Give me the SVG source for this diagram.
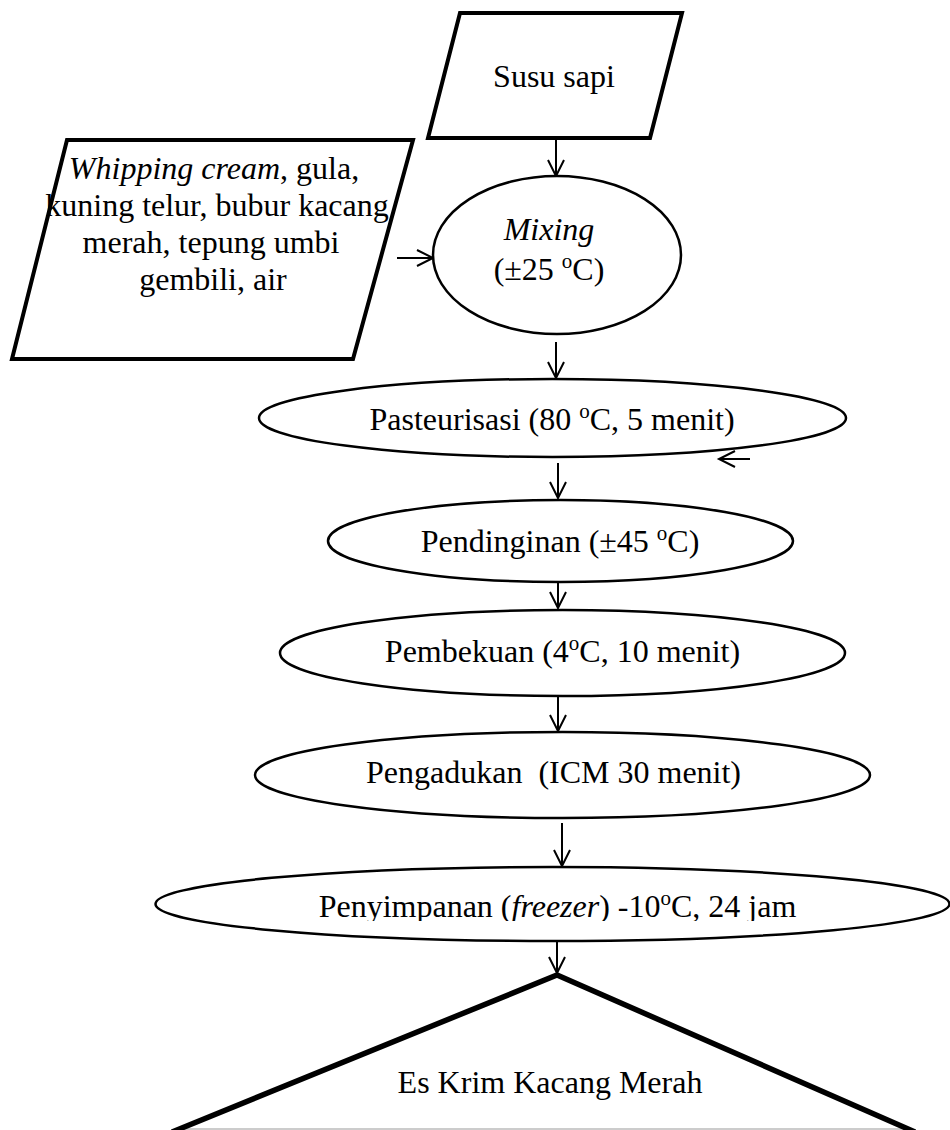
<svg xmlns="http://www.w3.org/2000/svg" width="950" height="1130" viewBox="0 0 950 1130">
<style>
.t{font-family:"Liberation Serif","Times New Roman",serif;font-size:32px;fill:#000;text-anchor:middle}
.sup{font-size:21px}
.io{stroke:#000;stroke-width:4;fill:#fff;stroke-linejoin:miter}
.pr{stroke:#000;stroke-width:2.5;fill:#fff}
.cn{stroke:#000;stroke-width:2;fill:none}
</style>
<defs>
<marker id="arr" markerUnits="userSpaceOnUse" markerWidth="22" markerHeight="22" refX="17" refY="9" orient="auto" viewBox="0 0 22 22">
<path d="M1,1 L17,9 L1,17" fill="none" stroke="#000" stroke-width="2"/>
</marker>
<clipPath id="clipP"><rect x="0" y="870" width="950" height="51"/></clipPath>
</defs>
<rect width="950" height="1130" fill="#fff"/>

<g id="connectors">
<line class="cn" x1="556" y1="138" x2="556" y2="176" marker-end="url(#arr)"/>
<line class="cn" x1="397" y1="258" x2="433" y2="258" marker-end="url(#arr)"/>
<line class="cn" x1="556" y1="342" x2="556" y2="378" marker-end="url(#arr)"/>
<line class="cn" x1="750" y1="459" x2="719" y2="459" marker-end="url(#arr)"/>
<line class="cn" x1="558" y1="463" x2="558" y2="498" marker-end="url(#arr)"/>
<line class="cn" x1="558" y1="583" x2="558" y2="608" marker-end="url(#arr)"/>
<line class="cn" x1="558" y1="697" x2="558" y2="731" marker-end="url(#arr)"/>
<line class="cn" x1="562" y1="823" x2="562" y2="866" marker-end="url(#arr)"/>
<line class="cn" x1="557" y1="942" x2="557" y2="973" marker-end="url(#arr)"/>
</g>

<g id="susu">
<polygon class="io" points="460,13 682,13 650,138 428,138"/>
<text class="t" x="554" y="87">Susu sapi</text>
</g>

<g id="bahan">
<polygon class="io" points="67,140 413,140 353,359 12,359"/>
<text class="t" x="214" y="179"><tspan font-style="italic">Whipping cream</tspan>, gula,</text>
<text class="t" x="217" y="216">kuning telur, bubur kacang</text>
<text class="t" x="211" y="253">merah, tepung umbi</text>
<text class="t" x="213" y="290">gembili, air</text>
</g>

<g id="mixing">
<ellipse class="pr" cx="557" cy="255" rx="124" ry="79"/>
<text class="t" x="549" y="240" font-style="italic">Mixing</text>
<text class="t" x="549" y="280">(±25 <tspan class="sup" dy="-12">o</tspan><tspan dy="12">C)</tspan></text>
</g>

<g id="pasteurisasi">
<ellipse class="pr" cx="552.5" cy="418" rx="293.5" ry="39"/>
<text class="t" x="552" y="430">Pasteurisasi (80 <tspan class="sup" dy="-12">o</tspan><tspan dy="12">C, 5 menit)</tspan></text>
</g>

<g id="pendinginan">
<ellipse class="pr" cx="560.5" cy="541" rx="232.5" ry="41"/>
<text class="t" x="560" y="552">Pendinginan (±45 <tspan class="sup" dy="-12">o</tspan><tspan dy="12">C)</tspan></text>
</g>

<g id="pembekuan">
<ellipse class="pr" cx="562.5" cy="653" rx="282.5" ry="43"/>
<text class="t" x="562.5" y="662">Pembekuan (4<tspan class="sup" dy="-12">o</tspan><tspan dy="12">C, 10 menit)</tspan></text>
</g>

<g id="pengadukan">
<ellipse class="pr" cx="562.5" cy="775" rx="307.5" ry="43"/>
<text class="t" x="553.5" y="783" xml:space="preserve">Pengadukan  (ICM 30 menit)</text>
</g>

<g id="penyimpanan">
<ellipse class="pr" cx="552.5" cy="904" rx="397" ry="37"/>
<text class="t" x="557.5" y="917" clip-path="url(#clipP)">Penyimpanan (<tspan font-style="italic">freezer</tspan>) -10<tspan class="sup" dy="-12">o</tspan><tspan dy="12">C, 24 jam</tspan></text>
</g>

<g id="produk">
<line x1="183" y1="1129" x2="905" y2="1129" stroke="#999" stroke-width="1.2"/>
<polyline points="172,1132 557,975 915,1132" fill="none" stroke="#000" stroke-width="5.5" stroke-linejoin="miter"/>
<text class="t" x="550" y="1093">Es Krim Kacang Merah</text>
</g>
</svg>
